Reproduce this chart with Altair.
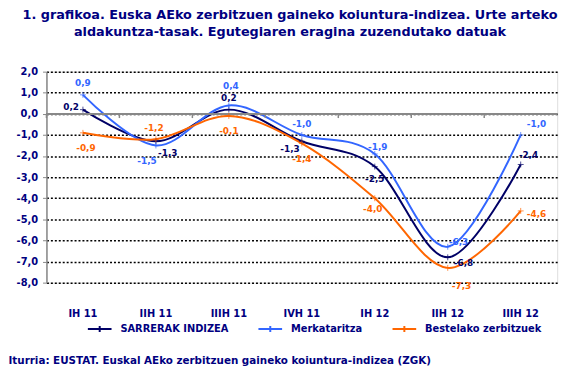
import altair as alt
import pandas as pd

categories = ["IH 11", "IIH 11", "IIIH 11", "IVH 11", "IH 12", "IIH 12", "IIIH 12"]
series_names = ["SARRERAK INDIZEA", "Merkataritza", "Bestelako zerbitzuek"]
sarrerak = [0.2, -1.3, 0.2, -1.3, -2.5, -6.8, -2.4]
merkataritza = [0.9, -1.5, 0.4, -1.0, -1.9, -6.3, -1.0]
bestelako = [-0.9, -1.2, -0.1, -1.4, -4.0, -7.3, -4.6]
colors = ["#000066", "#3366FF", "#FF6600"]

# label placement offsets (pixels) for the value labels
sarrerak_dx = [-12, 12, 0, -12, 0, 16, 8]
sarrerak_dy = [-3, 12, -12, 8, 13, 6, -10]
merk_dx = [0, -9, 2, 0, 3, 11, 16]
merk_dy = [-12, 16, -20, -11, -7, -5, -11]
best_dx = [3, -2, 0, 0, -2, 14, 16]
best_dy = [15, -11, 15, 16, 11, 18, 3]

title_lines = ["1. grafikoa. Euska AEko zerbitzuen gaineko koiuntura-indizea. Urte arteko",
               "aldakuntza-tasak. Egutegiaren eragina zuzendutako datuak"]
source = "Iturria: EUSTAT. Euskal AEko zerbitzuen gaineko koiuntura-indizea (ZGK)"

navy = "#000080"
FONT = "DejaVu Sans"

rows = []
for name, vals, dxs, dys in [
    (series_names[0], sarrerak, sarrerak_dx, sarrerak_dy),
    (series_names[1], merkataritza, merk_dx, merk_dy),
    (series_names[2], bestelako, best_dx, best_dy),
]:
    for c, v, dx, dy in zip(categories, vals, dxs, dys):
        rows.append({"cat": c, "value": v, "series": name,
                     "label": f"{v:.1f}".replace(".", ","), "ldx": dx, "ldy": dy})
df = pd.DataFrame(rows)
cat_df = pd.DataFrame({"cat": categories})

cscale = alt.Scale(domain=series_names, range=colors)
color = alt.Color("series:N", scale=cscale, sort=series_names,
                  legend=alt.Legend(title=None, orient="none", direction="horizontal",
                                    legendX=41, legendY=248, padding=0,
                                    symbolType="M-1,0L1,0M0,-0.25L0,0.25",
                                    symbolSize=576, symbolStrokeWidth=2,
                                    labelFont=FONT, labelFontSize=10, labelFontWeight="bold",
                                    labelColor=navy, labelOffset=8, columnPadding=26))

yscale = alt.Scale(domain=[-8, 2], nice=False)
xscale = alt.Scale(type="band", paddingInner=0, paddingOuter=0)

y_axis = alt.Axis(title=None, values=list(range(-8, 3)), labelOverlap=False,
                  labelExpr="(datum.value < 0 ? '-' : '') + replace(format(abs(datum.value), '.1f'), '.', ',')",
                  labelFont=FONT, labelFontSize=10, labelFontWeight="bold", labelColor=navy,
                  domainColor="#888888", domainWidth=1.5, tickColor="#888888", tickSize=4,
                  labelPadding=5,
                  grid=True, gridColor="#000000", gridDash=[2, 2], gridWidth=1.5)
y_enc = alt.Y("value:Q", scale=yscale, axis=y_axis)

x_axis = alt.Axis(title=source, orient="bottom", domain=False, ticks=False, grid=False,
                  bandPosition=0.5, labelAlign="center",
                  labelAngle=0, labelFont=FONT, labelFontSize=10, labelFontWeight="bold",
                  labelColor=navy, labelPadding=26,
                  titleFont=FONT, titleFontSize=10.5, titleFontWeight="bold", titleColor=navy,
                  titleX=-39, titleY=79, titleAlign="left", titleBaseline="middle",
                  titleAnchor="start")
x_enc = alt.X("cat:N", sort=categories, scale=xscale, axis=x_axis)

base = alt.Chart(df)

lines = base.mark_line(interpolate="cardinal", strokeWidth=2).encode(
    x=x_enc, y=y_enc, color=color,
)

zero_line = alt.Chart(cat_df).mark_rule(color="#888888", strokeWidth=1.5).encode(
    y=alt.datum(0, type="quantitative", scale=yscale, axis=y_axis))

zero_ticks = alt.Chart(cat_df).mark_rule(color="#888888", strokeWidth=1.5).encode(
    x=alt.X("cat:N", sort=categories, scale=xscale, bandPosition=0, axis=x_axis),
    y=alt.datum(0, type="quantitative", axis=y_axis),
    y2=alt.datum(-0.2),
)

points = base.mark_point(shape="M-1,0L1,0M0,-1L0,1", size=36, filled=False, strokeWidth=1).encode(
    x=x_enc, y=y_enc,
    color=alt.Color("series:N", scale=cscale, legend=None),
)

labels = base.mark_text(font=FONT, fontSize=9, fontWeight="bold",
                        dx=alt.ExprRef(expr="datum.ldx"), dy=alt.ExprRef(expr="datum.ldy")).encode(
    x=x_enc, y=y_enc,
    text="label:N",
    color=alt.Color("series:N", scale=cscale, legend=None),
)

chart = alt.layer(lines, zero_line, zero_ticks, points, labels).properties(
    width=518, height=214,
    autosize=alt.AutoSizeParams(type="none"),
    padding={"left": 39, "top": 62, "right": 13, "bottom": 83},
    title=alt.Title(text=title_lines, anchor="middle", dx=-12, offset=28,
                    font=FONT, fontSize=13, fontWeight="bold", color=navy, lineHeight=17),
).configure_view(stroke=None).configure(background="white")

chart.save("out.html", embed_options={"renderer": "svg", "actions": False})
